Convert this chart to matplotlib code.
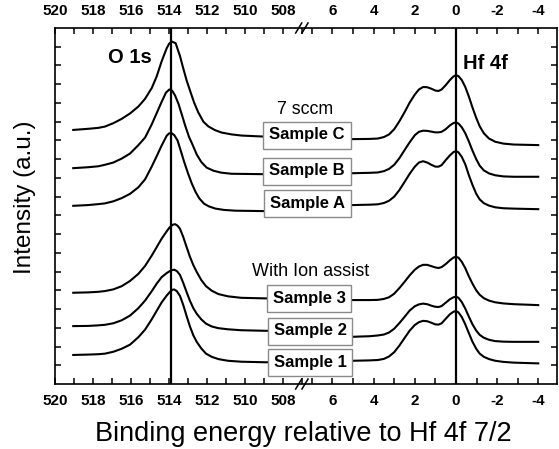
import matplotlib
matplotlib.use('Agg')
import matplotlib.pyplot as plt

plt.rcParams['font.family'] = ['Liberation Sans', 'DejaVu Sans']
plt.rcParams['axes.unicode_minus'] = False

# O 1s region: binding energy (eV)
o1s_e_C = [519.04, 518.25, 517.72, 517.37, 516.93, 516.49, 516.05, 515.61, 515.26, 514.91, 514.65, 514.39, 514.12, 514.0, 513.86,
           513.65, 513.42, 513.25, 513.07, 512.89, 512.67, 512.46, 512.19, 511.93, 511.58, 511.23, 510.70, 510.18, 509.12, 507.2]
o1s_C = [13.56, 13.62, 13.67, 13.74, 13.92, 14.15, 14.44, 14.81, 15.22, 15.79, 16.41, 17.21, 17.92, 18.15, 18.28,
         18.19, 17.50, 16.85, 16.20, 15.65, 15.00, 14.50, 14.00, 13.75, 13.55, 13.42, 13.32, 13.26, 13.21, 13.2]

o1s_e_B = [519.04, 518.25, 517.72, 517.37, 516.93, 516.49, 516.05, 515.61, 515.26, 514.91, 514.65, 514.39, 514.16, 513.98,
           513.83, 513.68, 513.50, 513.33, 513.15, 512.95, 512.75, 512.54, 512.30, 512.02, 511.65, 511.25, 510.70, 509.12, 507.2]
o1s_B = [11.52, 11.57, 11.62, 11.70, 11.82, 12.03, 12.30, 12.75, 13.15, 13.85, 14.45, 15.05, 15.55, 15.72,
         15.65, 15.40, 14.95, 14.40, 13.80, 13.20, 12.75, 12.25, 11.85, 11.55, 11.38, 11.28, 11.22, 11.2, 11.2]

o1s_e_A = [519.04, 518.25, 517.72, 517.37, 516.93, 516.49, 516.05, 515.61, 515.26, 514.91, 514.65, 514.39, 514.12, 514.0, 513.88,
           513.72, 513.55, 513.38, 513.2, 513.0, 512.8, 512.6, 512.4, 512.15, 511.9, 511.55, 511.1, 510.5, 509.12, 507.2]
o1s_A = [9.51, 9.55, 9.60, 9.64, 9.75, 9.92, 10.15, 10.50, 10.92, 11.60, 12.15, 12.72, 13.25, 13.37, 13.40,
         13.28, 13.0, 12.45, 11.85, 11.25, 10.7, 10.25, 9.9, 9.62, 9.48, 9.36, 9.29, 9.25, 9.23, 9.2]

o1s_e_3 = [519.04, 518.25, 517.72, 517.37, 516.93, 516.49, 516.05, 515.61, 515.26, 514.91, 514.65, 514.39, 514.12, 513.95, 513.80, 513.68,
           513.55, 513.42, 513.25, 513.07, 512.9, 512.72, 512.54, 512.3, 512.05, 511.75, 511.4, 510.9, 510.2, 508.95, 507.2]
o1s_3 = [4.87, 4.89, 4.92, 4.96, 5.05, 5.22, 5.50, 5.88, 6.30, 6.85, 7.30, 7.75, 8.15, 8.38, 8.50, 8.53,
         8.45, 8.28, 7.85, 7.30, 6.80, 6.35, 5.98, 5.55, 5.22, 4.98, 4.80, 4.68, 4.60, 4.57, 4.57]

o1s_e_2 = [519.04, 518.25, 517.72, 517.37, 516.93, 516.49, 516.05, 515.61, 515.26, 514.91, 514.65, 514.39, 514.12, 513.95, 513.83, 513.72,
           513.58, 513.42, 513.25, 513.07, 512.9, 512.72, 512.54, 512.3, 512.05, 511.75, 511.4, 510.9, 510.2, 508.95, 507.2]
o1s_2 = [3.09, 3.10, 3.13, 3.16, 3.24, 3.40, 3.65, 4.05, 4.45, 4.95, 5.35, 5.70, 5.92, 6.03, 6.08, 6.10,
         6.02, 5.82, 5.40, 4.90, 4.45, 4.05, 3.75, 3.45, 3.22, 3.07, 2.98, 2.92, 2.87, 2.84, 2.84]

o1s_e_1 = [519.04, 518.25, 517.72, 517.37, 516.93, 516.49, 516.05, 515.61, 515.26, 514.91, 514.65, 514.39, 514.12, 513.95, 513.83, 513.74,
           513.60, 513.42, 513.25, 513.07, 512.9, 512.72, 512.54, 512.3, 512.05, 511.75, 511.4, 510.9, 510.2, 508.95, 507.2]
o1s_1 = [1.55, 1.57, 1.59, 1.62, 1.72, 1.88, 2.10, 2.50, 2.90, 3.45, 3.90, 4.35, 4.72, 4.92, 5.02, 5.05,
         4.97, 4.70, 4.22, 3.62, 3.08, 2.60, 2.25, 1.90, 1.62, 1.45, 1.33, 1.24, 1.19, 1.16, 1.16]

# Hf 4f region: energy relative to Hf 4f 7/2 (eV)
hf_e = [6.8, 5.0, 4.2, 3.8, 3.5, 3.25, 3.0, 2.75, 2.5, 2.25, 2.0, 1.8, 1.6, 1.4, 1.2, 1.0, 0.85, 0.7, 0.5, 0.3, 0.12, 0.0,
        -0.12, -0.28, -0.45, -0.62, -0.80, -0.98, -1.15, -1.35, -1.6, -1.9, -2.3, -2.8, -3.99]
hf_C = [13.07, 13.07, 13.08, 13.10, 13.18, 13.32, 13.60, 14.02, 14.50, 15.02, 15.45, 15.72, 15.85, 15.84, 15.76, 15.66, 15.64, 15.72, 15.95, 16.22, 16.42, 16.48,
        16.43, 16.22, 15.85, 15.35, 14.75, 14.20, 13.75, 13.38, 13.10, 12.93, 12.83, 12.78, 12.75]
hf_B = [11.25, 11.25, 11.27, 11.29, 11.36, 11.48, 11.70, 12.05, 12.48, 12.90, 13.28, 13.46, 13.52, 13.51, 13.47, 13.43, 13.43, 13.46, 13.60, 13.80, 13.93, 13.96,
        13.90, 13.70, 13.38, 12.95, 12.45, 12.00, 11.65, 11.40, 11.24, 11.14, 11.08, 11.06, 11.06]
hf_A = [9.55, 9.55, 9.57, 9.59, 9.66, 9.78, 10.00, 10.35, 10.78, 11.22, 11.60, 11.82, 11.89, 11.82, 11.70, 11.60, 11.60, 11.68, 11.95, 12.20, 12.38, 12.43,
        12.36, 12.12, 11.72, 11.15, 10.62, 10.15, 9.85, 9.65, 9.52, 9.43, 9.38, 9.36, 9.33]
hf_3 = [4.48, 4.48, 4.48, 4.49, 4.54, 4.63, 4.82, 5.12, 5.45, 5.80, 6.10, 6.27, 6.36, 6.36, 6.29, 6.22, 6.19, 6.24, 6.40, 6.60, 6.75, 6.79,
        6.74, 6.52, 6.18, 5.75, 5.35, 5.00, 4.76, 4.58, 4.45, 4.36, 4.30, 4.26, 4.21]
hf_2 = [2.52, 2.52, 2.55, 2.59, 2.64, 2.75, 2.95, 3.25, 3.58, 3.92, 4.15, 4.25, 4.29, 4.26, 4.18, 4.12, 4.11, 4.16, 4.34, 4.52, 4.63, 4.66,
        4.60, 4.37, 4.02, 3.60, 3.18, 2.85, 2.62, 2.47, 2.36, 2.29, 2.26, 2.25, 2.25]
hf_1 = [1.24, 1.24, 1.26, 1.28, 1.34, 1.47, 1.70, 2.05, 2.45, 2.85, 3.15, 3.30, 3.37, 3.35, 3.27, 3.18, 3.17, 3.24, 3.48, 3.72, 3.86, 3.89,
        3.82, 3.57, 3.18, 2.72, 2.25, 1.88, 1.62, 1.45, 1.33, 1.24, 1.18, 1.14, 1.10]

o1s_series = [(o1s_e_C, o1s_C), (o1s_e_B, o1s_B), (o1s_e_A, o1s_A),
              (o1s_e_3, o1s_3), (o1s_e_2, o1s_2), (o1s_e_1, o1s_1)]
hf_series = [hf_C, hf_B, hf_A, hf_3, hf_2, hf_1]

sample_labels = ['Sample C', 'Sample B', 'Sample A', 'Sample 3', 'Sample 2', 'Sample 1']
label_xy = [(307, 135), (307, 171), (307, 204), (309, 298), (310, 331), (310, 362)]

W, H = 559, 449
fig = plt.figure(figsize=(W / 100, H / 100), dpi=100)
bottom = 1 - 384 / H
height = (384 - 28) / H
ax1 = fig.add_axes([55 / W, bottom, 250 / W, height])
ax2 = fig.add_axes([305 / W, bottom, 252 / W, height])

for e, y in o1s_series:
    ax1.plot(e, y, color='black', linewidth=1.5, solid_joinstyle='round')
for y in hf_series:
    ax2.plot(hf_e, y, color='black', linewidth=1.5, solid_joinstyle='round')

ax1.axvline(513.88, color='black', linewidth=1.6)
ax2.axvline(0, color='black', linewidth=1.6)

ax1.set_xlim(520, 506.84)
ax2.set_xlim(7.33, -4.9)
ax1.set_xticks([520, 518, 516, 514, 512, 510, 508])
ax1.set_xticks(range(507, 520), minor=True)
ax2.set_xticks([6, 4, 2, 0, -2, -4])
ax2.set_xticks(range(-4, 8), minor=True)

for ax in (ax1, ax2):
    ax.set_ylim(0, 19)
    ax.set_yticks(range(1, 19))
    ax.set_yticklabels([])
    ax.tick_params(axis='both', which='both', direction='in', top=True,
                   labeltop=True, width=1.1)
    ax.tick_params(axis='x', which='major', length=4.5, pad=7, labelsize=11)
    ax.tick_params(axis='x', which='minor', length=4)
    ax.tick_params(axis='y', length=4)
    for lab in ax.get_xticklabels():
        lab.set_fontweight('bold')
    for s in ax.spines.values():
        s.set_linewidth(1.2)

ax1.spines['right'].set_visible(False)
ax2.spines['left'].set_visible(False)
ax1.tick_params(axis='y', right=False)
ax2.tick_params(axis='y', left=False, right=True)
ax2.patch.set_alpha(0)

# break marks
for yy in (0, 1):
    for dx in (-0.025, 0.0):
        ax2.plot([dx - 0.012, dx + 0.012], [yy - 0.014, yy + 0.014],
                 transform=ax2.transAxes, color='black', linewidth=1.1,
                 clip_on=False)

for lab, (px, py) in zip(sample_labels, label_xy):
    fig.text(px / W, 1 - py / H, lab, ha='center', va='center',
             fontsize=12, fontweight='bold',
             bbox=dict(boxstyle='square,pad=0.36', fc='white', ec='#8a8a8a', lw=1))

fig.text(130 / W, 1 - 57.5 / H, 'O 1s', ha='center', va='center', fontsize=14.5, fontweight='bold')
fig.text(485.5 / W, 1 - 63.5 / H, 'Hf 4f', ha='center', va='center', fontsize=14.5, fontweight='bold')
fig.text(305 / W, 1 - 110 / H, '7 sccm', ha='center', va='center', fontsize=12.8)
fig.text(311 / W, 1 - 272 / H, 'With Ion assist', ha='center', va='center', fontsize=13)

fig.text(303.5 / W, 1 - 441 / H, 'Binding energy relative to Hf 4f 7/2',
         ha='center', va='baseline', fontsize=19.5)
fig.text(25 / W, 1 - 197 / H, 'Intensity (a.u.)', ha='center', va='center',
         rotation=90, fontsize=17.5)

fig.savefig('out.png', dpi=100)
